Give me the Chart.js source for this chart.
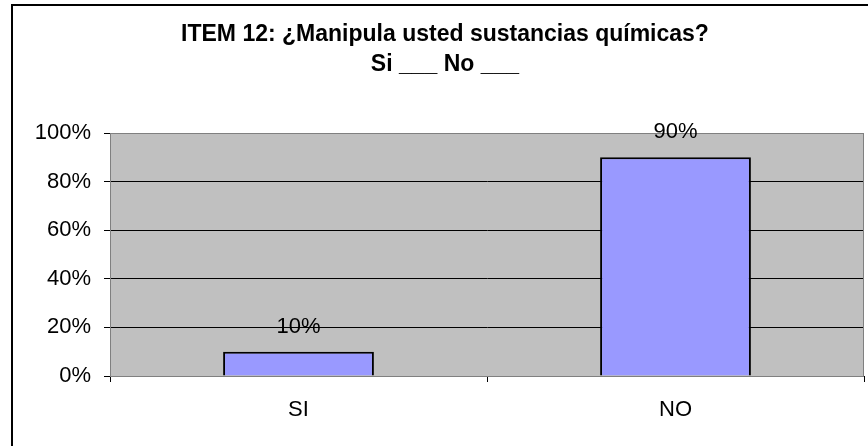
<!DOCTYPE html>
<html>
<head>
<meta charset="utf-8">
<style>
  html, body { margin: 0; padding: 0; background: #fff; }
  #wrap { width: 868px; height: 446px; position: relative; }
</style>
<script src="https://cdn.jsdelivr.net/npm/chart.js@4/dist/chart.umd.min.js"></script>
</head>
<body>
<div id="wrap"><canvas id="c" width="868" height="446"></canvas></div>
<script>
const categories = ['SI', 'NO'];
const values = [0.10, 0.90];
const valueLabels = ['10%', '90%'];
const yTickValues = [0, 0.2, 0.4, 0.6, 0.8, 1.0];
const yTickLabels = ['0%', '20%', '40%', '60%', '80%', '100%'];
const titleLines = ['ITEM 12: ¿Manipula usted sustancias químicas?', 'Si ___ No ___'];

const FONT = "'Liberation Sans', Arial, sans-serif";

const frame = {
  id: 'frame',
  beforeDraw(chart) {
    const ctx = chart.ctx, a = chart.chartArea;
    ctx.save();
    ctx.fillStyle = '#fff';
    ctx.fillRect(0, 0, chart.width, chart.height);
    ctx.fillStyle = '#000';
    ctx.fillRect(11, 4, 2, chart.height);
    ctx.fillRect(11, 4, chart.width, 2);
    ctx.fillStyle = '#C0C0C0';
    ctx.fillRect(a.left, a.top, a.right - a.left, a.bottom - a.top);
    ctx.restore();
  },
  beforeDatasetsDraw(chart) {
    const ctx = chart.ctx, a = chart.chartArea;
    ctx.save();
    ctx.strokeStyle = '#808080';
    ctx.lineWidth = 1;
    ctx.strokeRect(a.left + 0.5, a.top + 0.5, a.right - a.left - 1, a.bottom - a.top);
    ctx.restore();
  },
  afterDatasetsDraw(chart) {
    const ctx = chart.ctx;
    const meta = chart.getDatasetMeta(0);
    ctx.save();
    ctx.fillStyle = '#000';
    ctx.font = '22px ' + FONT;
    ctx.textAlign = 'center';
    ctx.textBaseline = 'middle';
    meta.data.forEach((bar, i) => {
      ctx.fillText(valueLabels[i], bar.x, bar.y - 25);
    });
    ctx.restore();
  }
};

new Chart(document.getElementById('c'), {
  type: 'bar',
  data: {
    labels: categories,
    datasets: [{
      data: values,
      backgroundColor: '#9999FF',
      borderColor: '#000',
      borderWidth: 2,
      barPercentage: 0.4,
      categoryPercentage: 1.0
    }]
  },
  options: {
    responsive: false,
    animation: false,
    devicePixelRatio: 1,
    layout: { padding: { left: 26, right: 4, top: 0, bottom: 0 } },
    plugins: {
      legend: { display: false },
      tooltip: { enabled: false },
      title: {
        display: true,
        text: titleLines,
        color: '#000',
        font: { family: FONT, size: 23, weight: 'bold', lineHeight: 30 / 23 },
        padding: { top: 20, bottom: 53 }
      }
    },
    scales: {
      x: {
        afterFit(s) { s.height = 70; },
        grid: {
          offset: true,
          drawOnChartArea: false,
          drawTicks: true,
          tickLength: 6,
          color: '#000'
        },
        border: { display: true, color: '#000', width: 1 },
        ticks: {
          color: '#000',
          padding: 15,
          font: { family: FONT, size: 22 }
        }
      },
      y: {
        min: 0,
        max: 1,
        afterFit(s) { s.width = 84; },
        afterBuildTicks(s) { s.ticks = yTickValues.map(v => ({ value: v })); },
        grid: {
          color: ctx => (ctx.tick && ctx.tick.value === 1 ? '#808080' : '#000'),
          tickColor: '#000',
          tickLength: 6,
          lineWidth: 1
        },
        border: { display: true, color: '#808080', width: 1 },
        ticks: {
          color: '#000',
          padding: 13,
          font: { family: FONT, size: 22 },
          callback: (v) => yTickLabels[yTickValues.indexOf(v)] ?? ''
        }
      }
    }
  },
  plugins: [frame]
});
</script>
</body>
</html>
